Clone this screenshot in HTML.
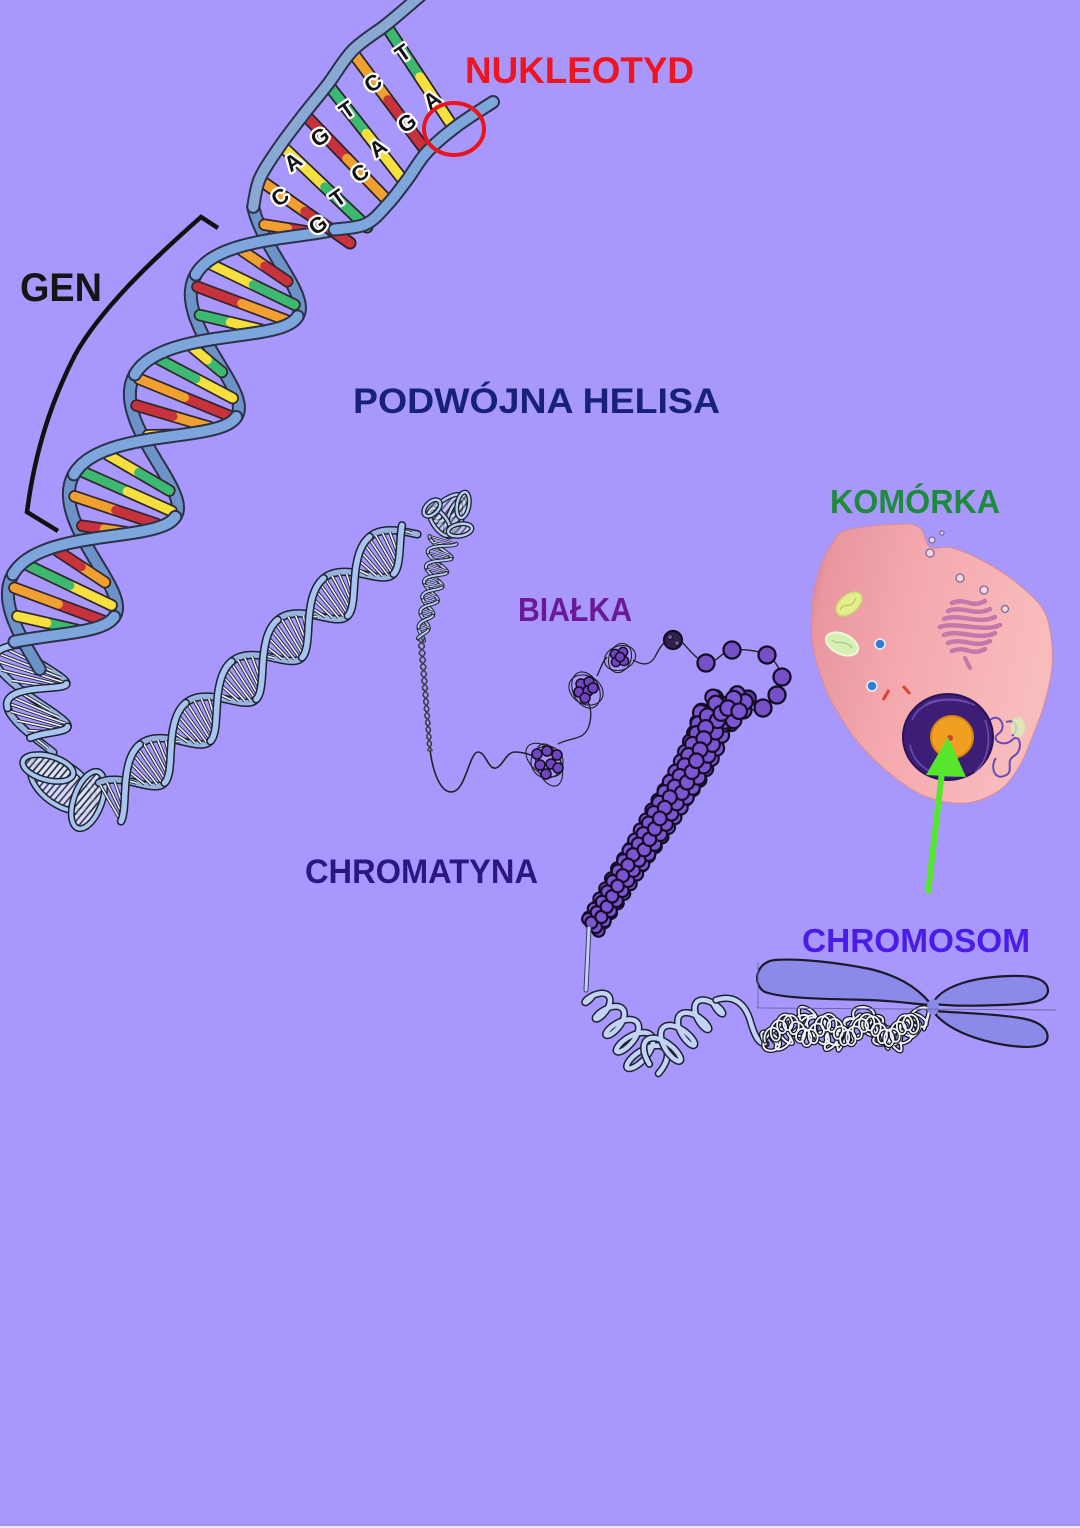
<!DOCTYPE html>
<html><head><meta charset="utf-8">
<style>
html,body{margin:0;padding:0;background:#a898fd;}
body{width:1080px;height:1528px;position:relative;overflow:hidden;}
svg{position:absolute;left:0;top:0;}
</style></head><body>
<svg id="s" width="1080" height="1528" viewBox="0 0 1080 1528" xmlns="http://www.w3.org/2000/svg">
<defs>
<pattern id="hatch" width="5" height="5" patternUnits="userSpaceOnUse" patternTransform="rotate(40)"><rect width="5" height="5" fill="#dfe6f8"/><line x1="1" y1="0" x2="1" y2="5" stroke="#1c2230" stroke-width="1.6"/></pattern>
<linearGradient id="cellg" x1="0" y1="0" x2="1" y2="0.25"><stop offset="0" stop-color="#c47684"/><stop offset="0.1" stop-color="#e996a0"/><stop offset="0.45" stop-color="#f4a8ad"/><stop offset="1" stop-color="#f8bcbd"/></linearGradient>
</defs>
<rect x="0" y="0" width="1080" height="1528" fill="#a898fd"/>
<rect x="0" y="1524" width="1080" height="2" fill="#9e92ea"/>
<rect x="0" y="1526" width="1080" height="2" fill="#ebe8f8"/>
<g id="draw"></g>

<!-- GEN bracket -->
<path d="M218,228 L201,217 C150,262 100,310 75,355 C52,400 35,450 27,512 L58,531" fill="none" stroke="#111" stroke-width="4.5"/>

<!-- nucleotide letters -->
<g font-family="Liberation Sans, sans-serif" font-weight="bold" font-size="22" fill="#111" stroke="#fff" stroke-width="4.5" stroke-linejoin="round" paint-order="stroke" text-anchor="middle" dominant-baseline="central">
<text transform="translate(403,53) rotate(-35)">T</text>
<text transform="translate(432,100) rotate(-35)">A</text>
<text transform="translate(373,83) rotate(-35)">C</text>
<text transform="translate(407,123) rotate(-35)">G</text>
<text transform="translate(347,110) rotate(-35)">T</text>
<text transform="translate(378,148) rotate(-35)">A</text>
<text transform="translate(320,137) rotate(-35)">G</text>
<text transform="translate(360,173) rotate(-35)">C</text>
<text transform="translate(293,162) rotate(-35)">A</text>
<text transform="translate(338,198) rotate(-35)">T</text>
<text transform="translate(280,197) rotate(-35)">C</text>
<text transform="translate(318,225) rotate(-35)">G</text>
</g>

<!-- red circle -->
<ellipse cx="454" cy="129" rx="30" ry="26" fill="none" stroke="#e8141e" stroke-width="4"/>

<g id="squig"></g>
<!-- chromosome arms -->
<g fill="#8c8ae8" stroke="#1a1a2a" stroke-width="2.2">
<path d="M930,1003 C915,985 895,975 870,969 C840,963 800,958 775,960 C755,962 752,985 765,992 C785,999 830,999 870,1000 C895,1001 915,1004 930,1005 Z"/>
<path d="M934,1001 C945,985 975,977 1010,976 C1035,975 1048,980 1048,991 C1047,1002 1030,1004 1000,1005 C975,1006 950,1006 934,1004 Z"/>
<path d="M936,1011 C955,1013 990,1013 1020,1018 C1040,1021 1050,1030 1047,1040 C1043,1048 1025,1048 1005,1045 C975,1040 950,1030 936,1015 Z"/>
</g>
<ellipse cx="933" cy="1007" rx="6" ry="8" fill="#8c8ae8"/>
<line x1="757" y1="1008" x2="1056" y2="1010" stroke="#6a6aa8" stroke-width="1"/>
<line x1="758" y1="962" x2="758" y2="1008" stroke="#6a6aa8" stroke-width="1"/>

<g id="cellgrp"></g>

<!-- green arrow -->
<line x1="928" y1="893" x2="942" y2="772" stroke="#56e62b" stroke-width="6"/>
<polygon points="948,737 926,775 966,777" fill="#56e62b"/>

<!-- labels -->
<g font-family="Liberation Sans, sans-serif" font-weight="bold">
<text x="465" y="83" font-size="37" textLength="229" lengthAdjust="spacingAndGlyphs" fill="#ee1522">NUKLEOTYD</text>
<text x="20" y="301" font-size="40" textLength="82" lengthAdjust="spacingAndGlyphs" fill="#151515">GEN</text>
<text x="353" y="413" font-size="35" textLength="367" lengthAdjust="spacingAndGlyphs" fill="#18207e">PODWÓJNA HELISA</text>
<text x="830" y="513" font-size="33" textLength="170" lengthAdjust="spacingAndGlyphs" fill="#1e8a3c">KOMÓRKA</text>
<text x="518" y="621" font-size="33" textLength="114" lengthAdjust="spacingAndGlyphs" fill="#6a1a96">BIAŁKA</text>
<text x="305" y="883" font-size="34" textLength="233" lengthAdjust="spacingAndGlyphs" fill="#2c1684">CHROMATYNA</text>
<text x="802" y="952" font-size="33" textLength="228" lengthAdjust="spacingAndGlyphs" fill="#4a1ce6">CHROMOSOM</text>
</g>
</svg>
<script>
(function(){
const NS='http://www.w3.org/2000/svg';
const G=document.getElementById('draw');
function el(tag,attrs,parent){const e=document.createElementNS(NS,tag);for(const k in attrs)e.setAttribute(k,attrs[k]);(parent||G).appendChild(e);return e;}
function f(v){return v.toFixed(1);}
function pl(pts){return pts.map((p,i)=>(i?'L':'M')+f(p[0])+','+f(p[1])).join('');}
function cat(pts,closed){
  const n=pts.length;let d='M'+f(pts[0][0])+','+f(pts[0][1]);
  for(let i=0;i<(closed?n:n-1);i++){
    const p0=pts[closed?(i-1+n)%n:Math.max(i-1,0)],p1=pts[i],p2=pts[(i+1)%n],p3=pts[closed?(i+2)%n:Math.min(i+2,n-1)];
    d+='C'+f(p1[0]+(p2[0]-p0[0])/6)+','+f(p1[1]+(p2[1]-p0[1])/6)+' '+f(p2[0]-(p3[0]-p1[0])/6)+','+f(p2[1]-(p3[1]-p1[1])/6)+' '+f(p2[0])+','+f(p2[1]);
  }
  return d+(closed?'Z':'');
}
function tube(d,out,inn,wo,wi,g){
  el('path',{d:d,fill:'none',stroke:out,'stroke-width':wo,'stroke-linecap':'round','stroke-linejoin':'round'},g);
  el('path',{d:d,fill:'none',stroke:inn,'stroke-width':wi,'stroke-linecap':'round','stroke-linejoin':'round'},g);
}
function helix(o){
  const S=[];const step=1;
  for(let s=o.s0;s<=o.s1+1e-6;s+=step){
    const fr=(s-o.s0)/(o.s1-o.s0);const r=o.R0+(o.R1-o.R0)*fr;
    const th=Math.PI*s/o.H+(o.ph||0);const c=Math.cos(th),sn=Math.sin(th);
    const cx=o.x0+o.ax*s,cy=o.y0+o.ay*s;const k=o.k||0;
    S.push({c:c,A:[cx-r*c*o.nx+k*r*sn*o.ax,cy-r*c*o.ny+k*r*sn*o.ay],B:[cx+r*c*o.nx-k*r*sn*o.ax,cy+r*c*o.ny-k*r*sn*o.ay],dA:-sn,dB:sn});
  }
  function segs(key,dk,front){
    const out=[];let cur=null;
    for(const p of S){const fr=p[dk]>=0;
      if(fr===front){if(!cur){cur=[];out.push(cur);}cur.push(p[key]);}
      else{if(cur){cur.push(p[key]);cur=null;}}}
    return out.filter(a=>a.length>1);
  }
  const st=o.strand;
  const drawSegs=function(front){
    [['A','dA'],['B','dB']].forEach(function(kk){
      segs(kk[0],kk[1],front).forEach(function(seg){tube(pl(seg),st.out,front?st.fill:(st.back||st.fill),st.wo,st.wi);});
    });
  };
  drawSegs(false);
  if(o.rung){
    const rg=o.rung;let idx=0;
    for(let i=(rg.off||0);i<S.length;i+=rg.sp){
      const p=S[i];
      if(Math.abs(p.c)<(rg.minc||0.2)){idx++;continue;}
      const A=p.A,B=p.B,dx=B[0]-A[0],dy=B[1]-A[1],L=Math.hypot(dx,dy);
      if(L<3){continue;}
      const sh=Math.min(rg.inset||0,L*0.2)/L;
      const a=[A[0]+dx*sh,A[1]+dy*sh],b=[B[0]-dx*sh,B[1]-dy*sh],m=[(a[0]+b[0])/2,(a[1]+b[1])/2];
      if(rg.colors){
        const pr=rg.colors[rg.seq[idx%rg.seq.length]];
        el('path',{d:pl([a,b]),stroke:rg.out,'stroke-width':rg.wo,'stroke-linecap':'round'});
        el('path',{d:pl([a,m]),stroke:pr[0],'stroke-width':rg.wi,'stroke-linecap':'round'});
        el('path',{d:pl([m,b]),stroke:pr[1],'stroke-width':rg.wi,'stroke-linecap':'round'});
      }else{
        el('path',{d:pl([a,b]),stroke:rg.out,'stroke-width':rg.wo});
        el('path',{d:pl([a,b]),stroke:rg.fill,'stroke-width':rg.wi});
      }
      idx++;
    }
  }
  drawSegs(true);
  return S;
}
function ell(cx,cy,rx,ry,rot,n){n=n||40;const a=rot*Math.PI/180,pts=[];for(let i=0;i<n;i++){const t=2*Math.PI*i/n;const x=rx*Math.cos(t),y=ry*Math.sin(t);pts.push([cx+x*Math.cos(a)-y*Math.sin(a),cy+x*Math.sin(a)+y*Math.cos(a)]);}return pts;}
function resample(pts,step){
  const segs=[];let total=0;
  for(let i=0;i<pts.length-1;i++){const dx=pts[i+1][0]-pts[i][0],dy=pts[i+1][1]-pts[i][1],l=Math.hypot(dx,dy);segs.push([pts[i],dx/l,dy/l,l]);total+=l;}
  const out=[];
  for(let d=0;d<=total;d+=step){let acc=0;for(const sg of segs){if(d<=acc+sg[3]){const t=d-acc;out.push([sg[0][0]+sg[1]*t,sg[0][1]+sg[2]*t,sg[1],sg[2]]);break;}acc+=sg[3];}}
  return out;
}

const PALE={out:'#1c2230',fill:'#a9c4ee',back:'#98b3e0',wo:8.5,wi:5.5};
const PALER={out:'#1c2230',fill:'#eef3fb',wo:3.4,wi:1.6,sp:6,minc:0.12,inset:2};
const COL={out:'#2a3148',fill:'#7fa6dc',back:'#6c92c8',wo:14,wi:10};
const PAIRS=[['#c8323c','#f0a030'],['#3cb870','#f5e040'],['#f5e040','#3cb870'],['#f0a030','#c8323c']];

/* ===== pale continuation + curl ===== */
helix({x0:28,y0:654,ax:0.15,ay:0.99,nx:0.95,ny:0.3,s0:0,s1:92,R0:40,R1:28,H:45,ph:1.59*Math.PI,k:0.15,strand:PALE,rung:PALER});
[[62,785,36,20,35],[88,800,14,30,20],[48,768,26,12,15]].forEach(function(e){
  const p=ell(e[0],e[1],e[2],e[3],e[4]);
  el('path',{d:cat(p,true),fill:'url(#hatch)','fill-opacity':'0.85',stroke:'none'});
  tube(cat(p,true),PALE.out,PALE.fill,7,4);
});

/* ===== long pale helix ===== */
helix({x0:110,y0:802,ax:0.74,ay:-0.672,nx:0.55,ny:0.835,s0:0,s1:405,R0:23,R1:22,H:62,ph:0.3,k:0.2,strand:PALE,rung:PALER});

/* ===== knot ===== */
[[448,508,20,9,-35],[455,518,7,20,20],[440,522,16,7,55],[460,530,12,6,-10],[432,508,10,6,-45],[463,505,6,13,10]].forEach(function(e){
  const p=ell(e[0],e[1],e[2],e[3],e[4]);
  el('path',{d:cat(p,true),fill:'url(#hatch)','fill-opacity':'0.6',stroke:'none'});
  tube(cat(p,true),'#1c2230','#b8cdf0',5,2.4);
});
helix({x0:443,y0:540,ax:-0.216,ay:0.976,nx:0.96,ny:0.28,s0:0,s1:102,R0:14,R1:4,H:15,k:0.1,strand:{out:'#1c2230',fill:'#b8cdf0',wo:4,wi:2},rung:{out:'#1c2230',fill:'#eef3fb',wo:2.2,wi:0.8,sp:4,minc:0.2}});
helix({x0:421,y0:639,ax:0.08,ay:0.997,nx:1,ny:0,s0:0,s1:112,R0:3,R1:2,H:7,strand:{out:'#222',fill:'#555',wo:1.4,wi:0.6}});
el('path',{d:'M430,750 C434,780 444,796 455,791 C466,786 470,752 478,752 C486,752 488,770 496,768 C503,766 506,752 515,752 C525,752 532,756 540,758',fill:'none',stroke:'#222','stroke-width':1.6});

/* ===== colored helix ===== */
const CS=helix({x0:247,y0:295,ax:-0.521,ay:0.854,nx:0.92,ny:0.39,s0:-90,s1:422,R0:55,R1:55,H:117,k:0.15,strand:COL,
  rung:{colors:PAIRS,seq:[0,1,3,2,0,1,3,1,2,0,3,1,0,2,1,3],out:'#33262a',wo:12.5,wi:9,sp:22,off:12,minc:0.3,inset:6}});
const FR=[[[387,27],[453,127],1],[[353,53],[423,147],3],[[330,87],[403,180],1],[[307,117],[387,200],0],[[283,147],[367,227],2],[[260,180],[350,243],3]];
FR.forEach(function(r){const a=r[0],b=r[1],m=[(a[0]+b[0])/2,(a[1]+b[1])/2],pr=PAIRS[r[2]];
  el('path',{d:pl([a,b]),stroke:'#2a2224','stroke-width':13,'stroke-linecap':'round'});
  el('path',{d:pl([a,m]),stroke:pr[0],'stroke-width':9.5,'stroke-linecap':'round'});
  el('path',{d:pl([m,b]),stroke:pr[1],'stroke-width':9.5,'stroke-linecap':'round'});
});
const s0=CS[0];
tube(cat([[420,-4],[387,24],[353,50],[328,84],[304,114],[280,146],[260,178],s0.B]),COL.out,'#8aa8d4',14,10);
tube(cat([[493,102],[457,126],[427,152],[407,180],[388,204],[366,224],s0.A]),COL.out,COL.fill,14,10);

/* ===== nucleosomes ===== */
function bead(x,y,r,fill,sw){el('circle',{cx:f(x),cy:f(y),r:r,fill:fill,stroke:'#140c24','stroke-width':sw||1.6});}
function cluster(cx,cy,loops,beads,r){
  loops.forEach(function(l){el('path',{d:cat(ell(cx+l[0],cy+l[1],l[2],l[3],l[4]),true),fill:'none',stroke:'#222','stroke-width':1.1});});
  beads.forEach(function(b){bead(cx+b[0],cy+b[1],r,'#6f45c0',1.5);});
}
cluster(547,762,[[-3,-2,21,13,40],[2,3,12,22,-20],[0,0,16,16,0]],[[-10,-8],[0,-11],[10,-7],[-7,3],[4,2],[-1,12],[11,6]],5);
el('path',{d:'M558,744 C572,736 586,742 590,722 C592,712 590,706 588,702',fill:'none',stroke:'#222','stroke-width':1.3});
cluster(586,690,[[0,0,18,14,30],[0,0,13,19,-25]],[[-5,-6],[3,-8],[-7,2],[2,1],[7,-2],[-1,8]],5);
el('path',{d:'M597,676 C601,668 602,662 607,657',fill:'none',stroke:'#222','stroke-width':1.3});
cluster(620,658,[[0,0,16,12,-20],[0,0,11,15,20]],[[-5,-4],[3,-6],[-4,4],[4,3],[0,-1]],4.6);
el('path',{d:'M633,660 C642,665 650,667 656,655 C660,647 664,642 668,640',fill:'none',stroke:'#222','stroke-width':1.3});
el('path',{d:cat([[680,640],[706,663],[732,650],[767,655],[782,677],[777,695],[763,708],[743,710],[728,706]]),fill:'none',stroke:'#222','stroke-width':1.4});
bead(673,640,9,'#2e2248',2.2);
bead(670,637,2.5,'#6a50a0',0.8);bead(677,643,2.5,'#6a50a0',0.8);
[[706,663],[732,650],[767,655],[782,677],[777,695],[763,708],[743,710]].forEach(function(p){bead(p[0],p[1],8.5,'#7650c8',2.3);});

/* ===== bead column ===== */
(function(){
  const P=resample([[742,712],[726,705],[714,714],[707,738],[692,768],[662,816],[626,873],[592,927]],1.45);
  const bs=[];let ph=0;
  P.forEach(function(p,i){const fr=i/P.length;const W=15-7*fr,r=7.8-1.8*fr;const nx=-p[3],ny=p[2];
    bs.push([p[0]+nx*W*Math.cos(ph),p[1]+ny*W*Math.cos(ph),r,Math.sin(ph)]);ph+=0.8;});
  bs.sort(function(a,b){return a[3]-b[3];});
  bs.forEach(function(b){bead(b[0],b[1],b[2],b[3]>0?'#7c55d2':'#5f3aa8',2.2);});
})();

/* ===== taper + springs ===== */
tube('M589,928 L586,990','#3a3f66','#c0d0f4',5,3);
function spring(p0,p1,loops,r0,r1,ph){
  const dx=p1[0]-p0[0],dy=p1[1]-p0[1],L=Math.hypot(dx,dy),ux=dx/L,uy=dy/L,nx=-uy,ny=ux;const pts=[];const N=Math.round(loops*28);
  for(let i=0;i<=N;i++){const t=i/N,phi=2*Math.PI*loops*t+(ph||0),r=r0+(r1-r0)*t;const cx=p0[0]+dx*t,cy=p0[1]+dy*t;
    pts.push([cx+nx*r*Math.sin(phi)+ux*r*0.45*Math.cos(phi),cy+ny*r*Math.sin(phi)+uy*r*0.45*Math.cos(phi)]);}
  return pts;
}
tube(pl(spring([590,992],[652,1066],5,10,22,0)),'#1c2230','#c3d3f5',7.5,4.5);
tube(pl(spring([656,1058],[718,1001],4,20,12,Math.PI)),'#1c2230','#c3d3f5',7.5,4.5);
tube('M716,1000 C734,994 745,1004 750,1020 C754,1034 758,1044 766,1044','#1c2230','#c3d3f5',7.5,4.5);

/* ===== squiggle ===== */
(function(){
  const SQ=document.getElementById('squig');
  const pts=[];
  for(let t=0;t<=1.0001;t+=0.0008){
    pts.push([766+158*t-7*Math.sin(2*Math.PI*30*t)+3*Math.sin(2*Math.PI*47*t),1030+10*Math.sin(2*Math.PI*2.7*t+0.5)+9*Math.cos(2*Math.PI*30*t)+4*Math.sin(2*Math.PI*11*t)]);
  }
  pts.push([930,1008]);
  tube(pl(pts),'#15151f','#eef0fa',4.5,2,SQ);
  const p2=[];
  for(let t=0;t<=1.0001;t+=0.0008){
    p2.push([770+145*t-6*Math.sin(2*Math.PI*23*t+1),1030+8*Math.sin(2*Math.PI*3.6*t+2)+8*Math.cos(2*Math.PI*23*t+1)]);
  }
  tube(pl(p2),'#15151f','#eef0fa',4.2,1.8,SQ);
})();

/* ===== cell ===== */
const CG=document.getElementById('cellgrp');
const cellPts=[[847,530],[900,524],[920,528],[930,547],[953,548],[985,562],[1013,580],[1040,605],[1050,630],[1052,667],[1044,705],[1033,735],[1020,765],[1000,790],[967,803],[930,798],[898,780],[863,748],[840,716],[824,685],[812,640],[813,597],[821,565],[833,542]];
el('path',{d:cat(cellPts,true),fill:'url(#cellg)',stroke:'#d88c94','stroke-width':1},CG);
el('ellipse',{cx:849,cy:604,rx:15,ry:9,transform:'rotate(-40 849 604)',fill:'#e4ee8c',stroke:'#c8dc6c','stroke-width':1.5},CG);
el('path',{d:'M840,610 C845,600 850,612 856,598',fill:'none',stroke:'#b8c860','stroke-width':1.2},CG);
el('ellipse',{cx:842,cy:644,rx:17,ry:10,transform:'rotate(25 842 644)',fill:'#d6f0b4',stroke:'#eef8d8','stroke-width':2},CG);
el('path',{d:'M832,640 C838,646 844,638 852,648',fill:'none',stroke:'#a8c890','stroke-width':1.2},CG);
for(let i=0;i<7;i++){const y=603+i*8,x0=940+Math.abs(3-i)*4,x1=1000-Math.abs(3-i)*5;
  el('path',{d:'M'+x0+','+y+' C'+(x0+15)+','+(y-6)+' '+(x1-15)+','+(y+6)+' '+x1+','+(y-2),fill:'none',stroke:'#c477aa','stroke-width':4.5,'stroke-linecap':'round'},CG);}
el('path',{d:'M965,658 L970,668',stroke:'#c477aa','stroke-width':4,'stroke-linecap':'round'},CG);
[[880,644],[872,686]].forEach(function(p){el('circle',{cx:p[0],cy:p[1],r:5,fill:'#2f7fd0',stroke:'#e6f0ff','stroke-width':1.5},CG);});
el('path',{d:'M883,700 L889,690',stroke:'#e04030','stroke-width':3},CG);
el('path',{d:'M903,686 L910,694',stroke:'#e04030','stroke-width':3},CG);
[[930,553,4],[960,578,4],[984,590,4],[1005,609,3.5],[932,540,3],[942,533,2]].forEach(function(p){el('circle',{cx:p[0],cy:p[1],r:p[2],fill:'#f4d6e0',stroke:'#7a6a9a','stroke-width':1.3},CG);});
el('path',{d:'M990,720 C1000,712 1008,728 998,734 C990,740 1004,748 1012,740 C1020,732 1024,750 1014,756 C1004,762 1016,772 1004,776 C994,780 990,766 996,758',fill:'none',stroke:'#6a4ab8','stroke-width':2},CG);
el('path',{d:'M1006,722 C1016,718 1020,730 1012,736',fill:'none',stroke:'#6a4ab8','stroke-width':2},CG);
el('ellipse',{cx:1018,cy:727,rx:7,ry:10,fill:'#d8f0b8',opacity:'0.8'},CG);
el('ellipse',{cx:948,cy:737,rx:45,ry:43,fill:'#3c1e76',stroke:'#2a1258','stroke-width':2},CG);
['M912,720 C920,700 950,695 975,705','M910,745 C915,770 940,780 965,775','M985,720 C992,740 988,760 975,772','M925,705 C935,698 955,698 968,702'].forEach(function(d){el('path',{d:d,fill:'none',stroke:'#6a4aae','stroke-width':1.6},CG);});
el('circle',{cx:952,cy:737,r:21,fill:'#f0a020',stroke:'#d88410','stroke-width':2},CG);
el('circle',{cx:950,cy:738,r:3,fill:'#e03838'},CG);
})();
</script>
</body></html>
